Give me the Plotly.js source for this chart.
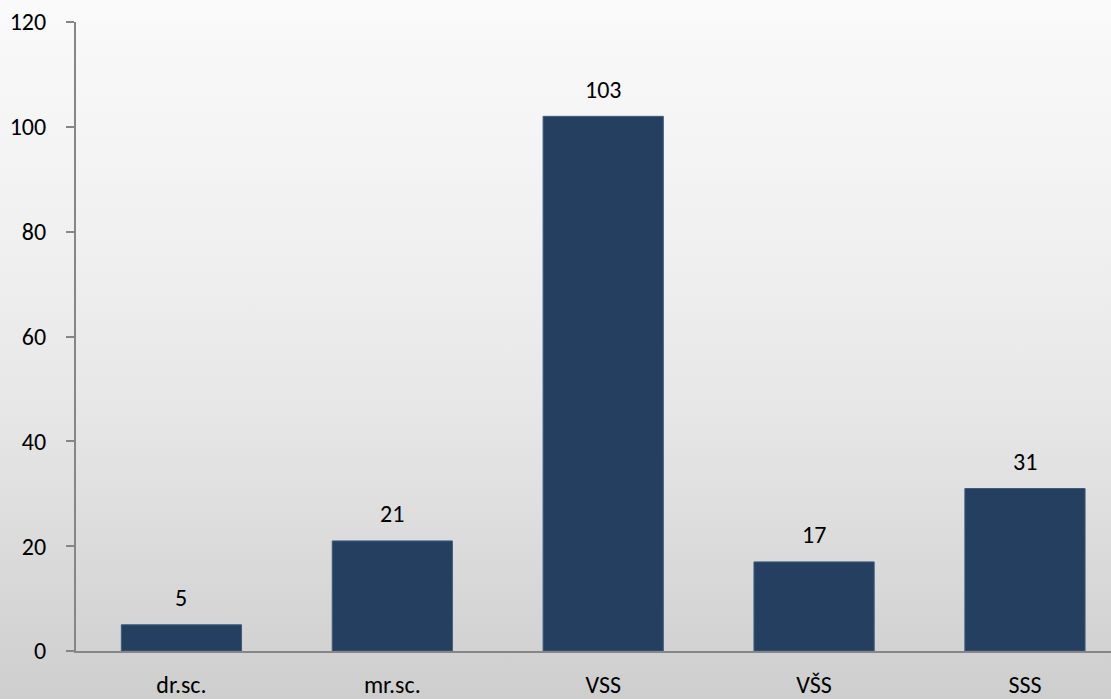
<!DOCTYPE html>
<html>
<head>
<meta charset="utf-8">
<script src="https://cdn.plot.ly/plotly-3.0.1.min.js"></script>
<style>
html, body { margin:0; padding:0; }
body { width:1111px; height:699px; overflow:hidden;
  background: linear-gradient(to bottom, #fafafa 0%, #f0f0f0 35%, #e6e6e6 60%, #cecece 100%); }
#chart { width:1111px; height:699px; }
</style>
</head>
<body>
<div id="chart"></div>
<script>
const categories = ["dr.sc.", "mr.sc.", "VSS", "VŠS", "SSS"];
const values = [5, 21, 102, 17, 31];
const labels = ["5", "21", "103", "17", "31"];
const yTicks = [0, 20, 40, 60, 80, 100, 120];

const FONT = "Carlito, Calibri, Lato, 'Open Sans', sans-serif";
const FS = 24;

const trace = {
  type: "bar",
  x: categories,
  y: values,
  marker: { color: "#243f60", line: { color: "#3e5b7e", width: 1 } },
  hoverinfo: "skip"
};

const annotations = categories.map((c, i) => ({
  x: c, y: values[i], text: labels[i], showarrow: false,
  xref: "x", yref: "y", yanchor: "middle", yshift: 27,
  font: { family: FONT, size: FS, color: "#000" }
}));

const layout = {
  width: 1111, height: 699,
  margin: { l: 76, r: 0, t: 22, b: 48, pad: 0 },
  paper_bgcolor: "rgba(0,0,0,0)",
  plot_bgcolor: "rgba(0,0,0,0)",
  showlegend: false,
  bargap: 0.43,
  font: { family: FONT, size: FS, color: "#000" },
  xaxis: {
    type: "category",
    range: [-0.5, 4.408],
    showgrid: false, zeroline: false,
    showline: true, linecolor: "#868686", linewidth: 2,
    ticks: "", ticklabelstandoff: 11,
    tickfont: { family: FONT, size: FS, color: "#000" },
    fixedrange: true
  },
  yaxis: {
    range: [0, 120],
    tickvals: yTicks,
    ticktext: yTicks.map(String),
    showgrid: false, zeroline: false,
    showline: true, linecolor: "#868686", linewidth: 2,
    ticks: "outside", ticklen: 8, tickcolor: "#868686", tickwidth: 2,
    ticklabelstandoff: 15,
    tickfont: { family: FONT, size: FS, color: "#000" },
    fixedrange: true
  },
  annotations: annotations
};

Plotly.newPlot("chart", [trace], layout, { displayModeBar: false, staticPlot: true });
</script>
</body>
</html>
